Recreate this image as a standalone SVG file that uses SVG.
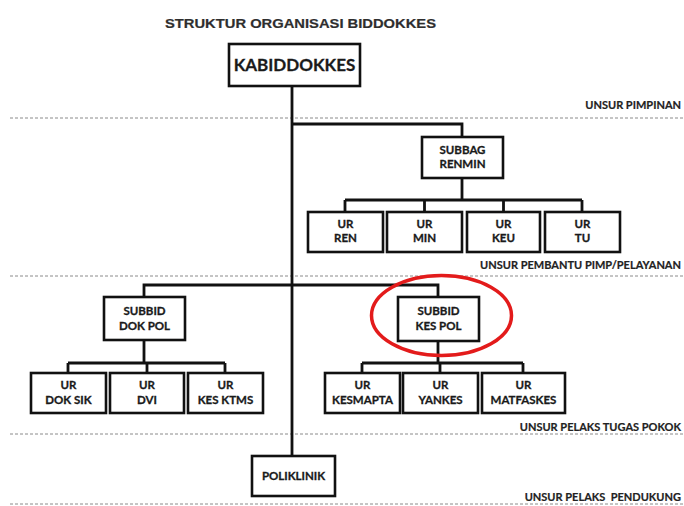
<svg xmlns="http://www.w3.org/2000/svg" width="684" height="506" viewBox="0 0 684 506">
<style>
.box{fill:#fff;stroke:#111;stroke-width:2.6}
.c{fill:none;stroke:#111;stroke-width:2.8}
.t{font-family:Lato,"Open Sans",sans-serif;font-weight:bold;font-size:11.5px;fill:#1a1a1a;stroke:#1a1a1a;stroke-width:0.3;text-anchor:middle}
.big{font-size:17px}
.sep{stroke:#8a8a8a;stroke-width:1;stroke-dasharray:3 2}
.lbl{font-family:Lato,"Open Sans",sans-serif;font-weight:bold;font-size:11px;fill:#222;stroke:#222;stroke-width:0.2;text-anchor:end}
</style>
<rect width="684" height="506" fill="#fff"/>
<text x="165" y="27.5" font-family="Liberation Sans,Arial,sans-serif" font-weight="bold" font-size="13" fill="#2e2e2e" stroke="#2e2e2e" stroke-width="0.2" textLength="271" lengthAdjust="spacingAndGlyphs">STRUKTUR ORGANISASI BIDDOKKES</text>
<g id="separators">
<line class="sep" x1="10" y1="118" x2="684" y2="118"/>
<line class="sep" x1="10" y1="276" x2="684" y2="276"/>
<line class="sep" x1="10" y1="434" x2="684" y2="434"/>
<line class="sep" x1="10" y1="504" x2="684" y2="504"/>
</g>
<g id="labels">
<text class="lbl" x="681" y="109">UNSUR PIMPINAN</text>
<text class="lbl" x="681" y="269">UNSUR PEMBANTU PIMP/PELAYANAN</text>
<text class="lbl" x="681" y="431">UNSUR PELAKS TUGAS POKOK</text>
<text class="lbl" x="681" y="501" xml:space="preserve">UNSUR PELAKS  PENDUKUNG</text>
</g>
<g id="connectors">
<path class="c" d="M292 86V456"/>
<path class="c" d="M292 124H462V137"/>
<path class="c" d="M462 178V200M345 200H582M345 200V212M424.5 200V212M503.5 200V212M582 200V212"/>
<path class="c" d="M144 297V285H438V297"/>
<path class="c" d="M144 340V363M68 363H225M68 363V373M147 363V373M225 363V373"/>
<path class="c" d="M438 341V363M362 363H523M362 363V373M440 363V373M523 363V373"/>
</g>
<g id="kabiddokkes"><rect class="box" x="229" y="44" width="131" height="42"/><text class="t big" x="294.5" y="71">KABIDDOKKES</text></g>
<g id="subbag-renmin"><rect class="box" x="422" y="137" width="81" height="41"/><text class="t" x="462.5" y="154">SUBBAG</text><text class="t" x="462.5" y="168">RENMIN</text></g>
<g id="ur-ren"><rect class="box" x="308" y="212" width="75" height="40"/><text class="t" x="345.5" y="228">UR</text><text class="t" x="345.5" y="242">REN</text></g>
<g id="ur-min"><rect class="box" x="387" y="212" width="75" height="40"/><text class="t" x="424.5" y="228">UR</text><text class="t" x="424.5" y="242">MIN</text></g>
<g id="ur-keu"><rect class="box" x="467" y="212" width="73" height="40"/><text class="t" x="503.5" y="228">UR</text><text class="t" x="503.5" y="242">KEU</text></g>
<g id="ur-tu"><rect class="box" x="545" y="212" width="75" height="40"/><text class="t" x="582.5" y="228">UR</text><text class="t" x="582.5" y="242">TU</text></g>
<g id="subbid-dokpol"><rect class="box" x="104" y="297" width="81" height="43"/><text class="t" x="144.5" y="315">SUBBID</text><text class="t" x="144.5" y="330">DOK POL</text></g>
<g id="ur-doksik"><rect class="box" x="31" y="373" width="75" height="40"/><text class="t" x="68.5" y="389">UR</text><text class="t" x="68.5" y="404">DOK SIK</text></g>
<g id="ur-dvi"><rect class="box" x="110" y="373" width="74" height="40"/><text class="t" x="147" y="389">UR</text><text class="t" x="147" y="404">DVI</text></g>
<g id="ur-kesktms"><rect class="box" x="188" y="373" width="75" height="40"/><text class="t" x="225.5" y="389">UR</text><text class="t" x="225.5" y="404">KES KTMS</text></g>
<g id="subbid-kespol"><rect class="box" x="398" y="297" width="81" height="44"/><text class="t" x="438.5" y="315">SUBBID</text><text class="t" x="438.5" y="330">KES POL</text></g>
<g id="ur-kesmapta"><rect class="box" x="325" y="373" width="75" height="40"/><text class="t" x="362.5" y="389">UR</text><text class="t" x="362.5" y="404">KESMAPTA</text></g>
<g id="ur-yankes"><rect class="box" x="403" y="373" width="75" height="40"/><text class="t" x="440.5" y="389">UR</text><text class="t" x="440.5" y="404">YANKES</text></g>
<g id="ur-matfaskes"><rect class="box" x="482" y="373" width="83" height="40"/><text class="t" x="523.5" y="389">UR</text><text class="t" x="523.5" y="404">MATFASKES</text></g>
<g id="poliklinik"><rect class="box" x="252" y="456" width="83" height="40"/><text class="t" x="293.5" y="480">POLIKLINIK</text></g>
<ellipse id="highlight" cx="441.5" cy="315.5" rx="70" ry="40" fill="none" stroke="#e31b1b" stroke-width="3.5"/>
</svg>
